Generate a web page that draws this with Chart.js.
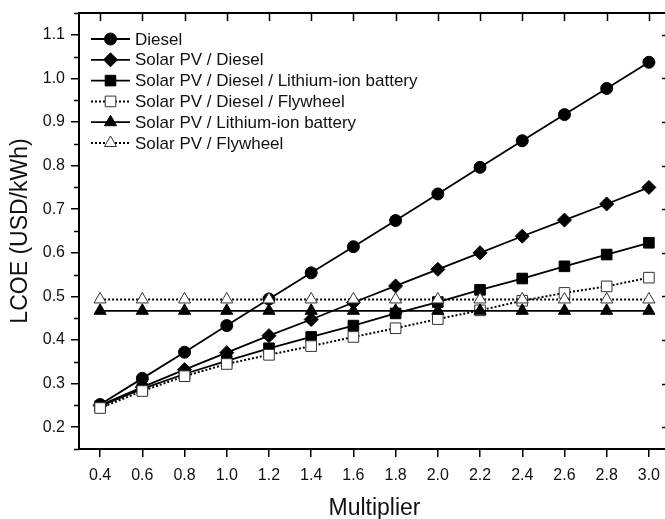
<!DOCTYPE html>
<html>
<head>
<meta charset="utf-8">
<script src="https://cdn.jsdelivr.net/npm/chart.js@4/dist/chart.umd.min.js"></script>
<style>
  html, body { margin: 0; padding: 0; background: #fff; overflow: hidden; }
  #wrap { width: 671px; height: 519px; position: relative; }
</style>
</head>
<body>
<div id="wrap"><canvas id="lcoeChart"></canvas></div>
<script>
// values
const multiplier = [0.4, 0.6, 0.8, 1.0, 1.2, 1.4, 1.6, 1.8, 2.0, 2.2, 2.4, 2.6, 2.8, 3.0];
const diesel = [0.252, 0.312, 0.372, 0.433, 0.494, 0.554, 0.614, 0.674, 0.735, 0.796, 0.857, 0.917, 0.977, 1.037];
const pvDiesel = [0.250, 0.292, 0.332, 0.371, 0.410, 0.447, 0.486, 0.524, 0.562, 0.600, 0.638, 0.675, 0.712, 0.750];
const pvDieselLithium = [0.248, 0.288, 0.322, 0.352, 0.381, 0.407, 0.433, 0.461, 0.487, 0.515, 0.541, 0.569, 0.596, 0.623];
const pvDieselFlywheel = [0.244, 0.283, 0.317, 0.345, 0.366, 0.386, 0.407, 0.427, 0.448, 0.468, 0.490, 0.508, 0.523, 0.543];
const pvLithium = [0.467, 0.467, 0.467, 0.467, 0.467, 0.467, 0.467, 0.467, 0.467, 0.467, 0.467, 0.467, 0.467, 0.467];
const pvFlywheel = [0.493, 0.493, 0.493, 0.493, 0.493, 0.493, 0.493, 0.493, 0.493, 0.493, 0.493, 0.493, 0.493, 0.493];

const seriesNames = [
    "Diesel",
    "Solar PV / Diesel",
    "Solar PV / Diesel / Lithium-ion battery",
    "Solar PV / Diesel / Flywheel",
    "Solar PV / Lithium-ion battery",
    "Solar PV / Flywheel"
];
const xTicks = [0.4, 0.6, 0.8, 1.0, 1.2, 1.4, 1.6, 1.8, 2.0, 2.2, 2.4, 2.6, 2.8, 3.0];
const yTicks = [0.2, 0.3, 0.4, 0.5, 0.6, 0.7, 0.8, 0.9, 1.0, 1.1];
const yMinorTicks = [0.15, 0.25, 0.35, 0.45, 0.55, 0.65, 0.75, 0.85, 0.95, 1.05, 1.15];

const FONT = "'Liberation Sans', Arial, sans-serif";
const INK = "#111";

const toPoints = (ys) => ys.map((y, i) => ({ x: multiplier[i], y: y }));

function makeSeries(idx, values, style, radius, open, dotted) {
    return {
        label: seriesNames[idx],
        data: toPoints(values),
        borderColor: "#000",
        borderWidth: dotted ? 2 : 1.8,
        borderDash: dotted ? [2, 2] : [],
        pointStyle: style,
        pointRadius: radius,
        pointBackgroundColor: open ? "#fff" : "#000",
        pointBorderColor: open ? "#333" : "#000",
        pointBorderWidth: 1,
        tension: 0,
        order: 5 - idx
    };
}

const datasets = [
    makeSeries(0, diesel, "circle", 6, false, false),
    makeSeries(1, pvDiesel, "rectRot", 7, false, false),
    makeSeries(2, pvDieselLithium, "rect", 7.5, false, false),
    makeSeries(3, pvDieselFlywheel, "rect", 7.5, true, true),
    makeSeries(4, pvLithium, "triangle", 7, false, false),
    makeSeries(5, pvFlywheel, "triangle", 7, true, true)
];

// frame on top/right with inward ticks, plus minor ticks on y
const framePlugin = {
    id: "frame",
    afterDatasetsDraw(chart) {
        const { ctx, chartArea: a, scales } = chart;
        const xs = scales.x, ys = scales.y;
        ctx.save();
        ctx.strokeStyle = "#000";
        ctx.lineWidth = 2;
        ctx.beginPath();
        ctx.moveTo(a.left, a.top);
        ctx.lineTo(a.right, a.top);
        ctx.lineTo(a.right, a.bottom);
        ctx.stroke();
        ctx.lineWidth = 1.5;
        ctx.beginPath();
        xTicks.forEach(v => {
            const px = Math.round(xs.getPixelForValue(v)) + 0.5;
            ctx.moveTo(px, a.top);
            ctx.lineTo(px, a.top + 8);
        });
        yTicks.forEach(v => {
            const py = Math.round(ys.getPixelForValue(v)) + 0.5;
            ctx.moveTo(a.right, py);
            ctx.lineTo(a.right - 8, py);
        });
        yMinorTicks.forEach(v => {
            const py = Math.round(ys.getPixelForValue(v)) + 0.5;
            ctx.moveTo(a.right, py);
            ctx.lineTo(a.right - 4, py);
            ctx.moveTo(a.left, py);
            ctx.lineTo(a.left - 5, py);
        });
        ctx.stroke();
        ctx.restore();
    }
};

// legend drawn like the Origin one: line sample with marker in the middle
const legendPlugin = {
    id: "originLegend",
    afterDraw(chart) {
        const { ctx } = chart;
        const x0 = 91, x1 = 130, top = 39, step = 20.8;
        ctx.save();
        ctx.font = "17px " + FONT;
        ctx.textBaseline = "middle";
        chart.data.datasets.forEach((ds, i) => {
            const y = top + i * step;
            ctx.strokeStyle = "#000";
            ctx.lineWidth = ds.borderWidth;
            ctx.setLineDash(ds.borderDash);
            ctx.beginPath();
            ctx.moveTo(x0, y);
            ctx.lineTo(x1, y);
            ctx.stroke();
            ctx.setLineDash([]);
            ctx.fillStyle = ds.pointBackgroundColor;
            ctx.strokeStyle = ds.pointBorderColor;
            ctx.lineWidth = ds.pointBorderWidth;
            Chart.helpers.drawPoint(ctx, {
                pointStyle: ds.pointStyle,
                radius: ds.pointRadius,
                rotation: 0,
                borderWidth: ds.pointBorderWidth
            }, (x0 + x1) / 2, y);
            ctx.fillStyle = INK;
            ctx.fillText(ds.label, 135, y + 1);
        });
        ctx.restore();
    }
};

const ctx = document.getElementById("lcoeChart").getContext("2d");
new Chart(ctx, {
    type: "line",
    data: { datasets: datasets },
    options: {
        responsive: true,
        maintainAspectRatio: false,
        animation: false,
        layout: { autoPadding: false, padding: { top: 13, right: 1, bottom: 0, left: 0 } },
        plugins: { legend: { display: false }, tooltip: { enabled: false } },
        scales: {
            x: {
                type: "linear",
                min: 0.3,
                max: 3.1,
                afterBuildTicks: (scale) => { scale.ticks = xTicks.map(v => ({ value: v })); },
                afterFit: (scale) => {
                    scale.height = 70;
                    scale.paddingLeft = 0;
                    scale.paddingRight = 0;
                },
                ticks: {
                    color: INK,
                    font: { family: FONT, size: 16 },
                    padding: 9,
                    maxRotation: 0,
                    autoSkip: false,
                    callback: (v) => Number(v).toFixed(1)
                },
                grid: { drawOnChartArea: false, drawTicks: true, tickLength: 8, color: "#000", lineWidth: 1.5 },
                border: { display: true, color: "#000", width: 2 },
                title: {
                    display: true,
                    text: "Multiplier",
                    color: INK,
                    font: { family: FONT, size: 23 },
                    padding: { top: 0, bottom: -3 }
                }
            },
            y: {
                type: "linear",
                min: 0.15,
                max: 1.15,
                afterBuildTicks: (scale) => { scale.ticks = yTicks.map(v => ({ value: v })); },
                afterFit: (scale) => {
                    scale.width = 79;
                    scale.paddingTop = 0;
                    scale.paddingBottom = 0;
                },
                ticks: {
                    color: INK,
                    font: { family: FONT, size: 16 },
                    padding: 6,
                    autoSkip: false,
                    callback: (v) => Number(v).toFixed(1)
                },
                grid: { drawOnChartArea: false, drawTicks: true, tickLength: 8, color: "#000", lineWidth: 1.5 },
                border: { display: true, color: "#000", width: 2 },
                title: {
                    display: true,
                    text: "LCOE (USD/kWh)",
                    color: INK,
                    font: { family: FONT, size: 23 },
                    padding: { top: 7, bottom: 0 }
                }
            }
        }
    },
    plugins: [framePlugin, legendPlugin]
});
</script>
</body>
</html>
